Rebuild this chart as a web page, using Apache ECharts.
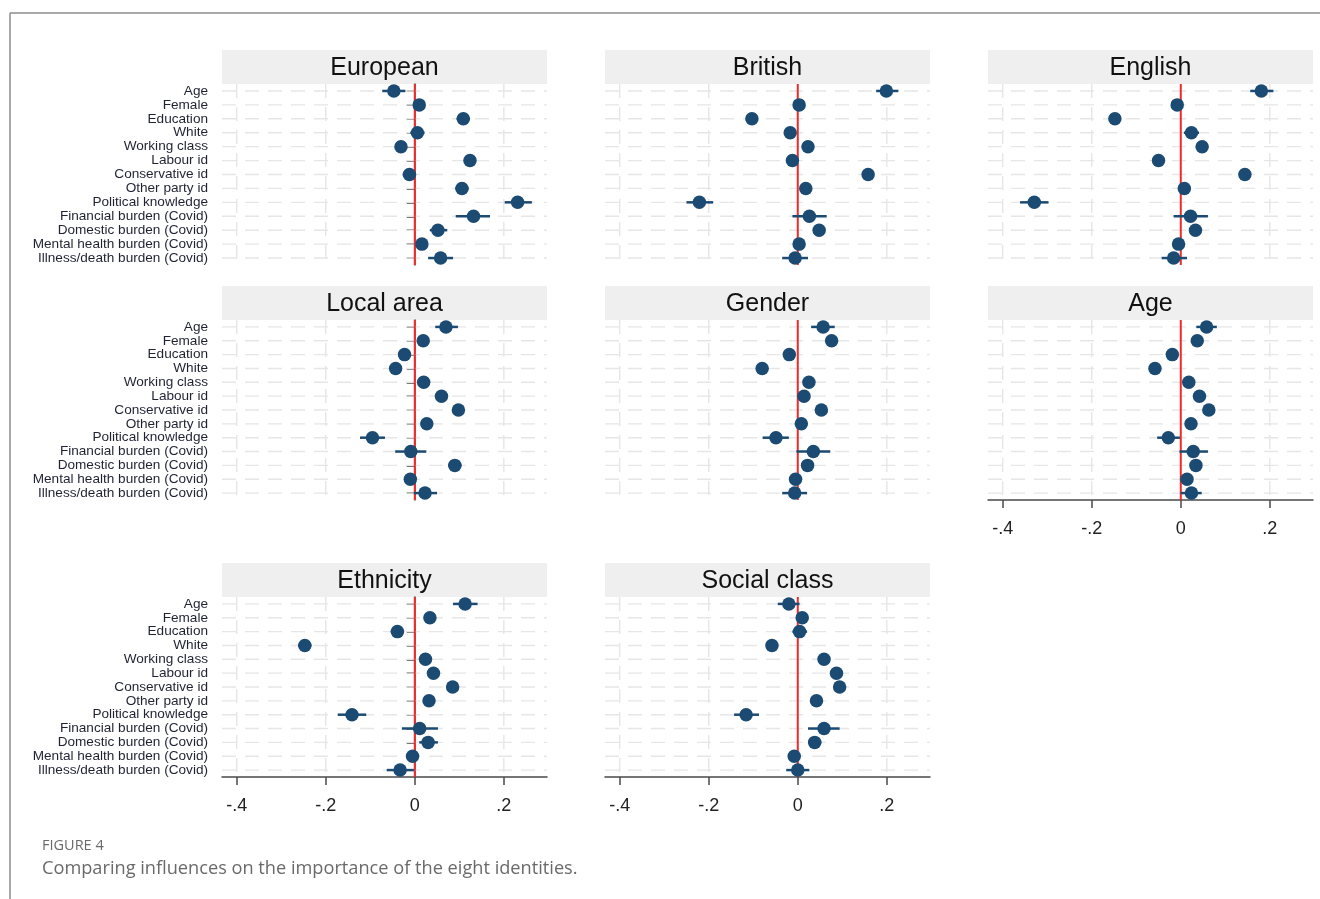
<!DOCTYPE html>
<html>
<head>
<meta charset="utf-8">
<script src="https://cdn.jsdelivr.net/npm/echarts@6/dist/echarts.min.js"></script>
<style>
html,body{margin:0;padding:0;background:#fff;}
#chart{width:1320px;height:899px;}
</style>
</head>
<body>
<div id="chart"></div>
<script>
// ---------------- DATA ----------------
const categories = ['Age','Female','Education','White','Working class','Labour id','Conservative id','Other party id','Political knowledge','Financial burden (Covid)','Domestic burden (Covid)','Mental health burden (Covid)','Illness/death burden (Covid)'];
const panelTitles = ['European','British','English','Local area','Gender','Age','Ethnicity','Social class'];
const xTicks = [-0.4, -0.2, 0, 0.2];

const europeanEst = [-0.047, 0.010, 0.109, 0.006, -0.031, 0.124, -0.012, 0.106, 0.231, 0.132, 0.052, 0.016, 0.058];
const europeanLo  = [-0.073, 0.000, 0.094, -0.010, -0.041, 0.112, -0.027, 0.091, 0.202, 0.092, 0.034, 0.004, 0.030];
const europeanHi  = [-0.021, 0.020, 0.124, 0.022, -0.021, 0.136, 0.003, 0.121, 0.263, 0.169, 0.073, 0.028, 0.086];

const britishEst = [0.199, 0.003, -0.103, -0.017, 0.023, -0.012, 0.158, 0.018, -0.221, 0.026, 0.048, 0.003, -0.006];
const britishLo  = [0.176, -0.007, -0.115, -0.029, 0.011, -0.024, 0.146, 0.006, -0.250, -0.012, 0.035, -0.008, -0.035];
const britishHi  = [0.226, 0.013, -0.091, -0.005, 0.035, 0.000, 0.170, 0.030, -0.190, 0.065, 0.061, 0.014, 0.023];

const englishEst = [0.181, -0.008, -0.148, 0.024, 0.048, -0.050, 0.144, 0.008, -0.329, 0.022, 0.033, -0.005, -0.016];
const englishLo  = [0.156, -0.018, -0.160, 0.007, 0.036, -0.062, 0.132, -0.004, -0.361, -0.016, 0.020, -0.016, -0.043];
const englishHi  = [0.208, 0.002, -0.136, 0.041, 0.060, -0.038, 0.156, 0.020, -0.297, 0.061, 0.046, 0.006, 0.014];

const localEst = [0.070, 0.019, -0.023, -0.043, 0.020, 0.060, 0.098, 0.027, -0.095, -0.009, 0.090, -0.010, 0.023];
const localLo  = [0.046, 0.008, -0.035, -0.055, 0.008, 0.048, 0.086, 0.015, -0.123, -0.044, 0.075, -0.021, -0.002];
const localHi  = [0.097, 0.030, -0.011, -0.031, 0.032, 0.072, 0.110, 0.039, -0.067, 0.026, 0.105, 0.001, 0.050];

const genderEst = [0.057, 0.076, -0.019, -0.080, 0.025, 0.014, 0.053, 0.008, -0.049, 0.035, 0.022, -0.005, -0.007];
const genderLo  = [0.030, 0.064, -0.031, -0.092, 0.013, 0.002, 0.041, -0.004, -0.079, -0.003, 0.009, -0.016, -0.035];
const genderHi  = [0.083, 0.088, -0.007, -0.068, 0.037, 0.026, 0.065, 0.020, -0.020, 0.073, 0.035, 0.006, 0.021];

const ageEst = [0.058, 0.037, -0.019, -0.058, 0.018, 0.042, 0.063, 0.023, -0.028, 0.028, 0.034, 0.014, 0.024];
const ageLo  = [0.035, 0.026, -0.030, -0.070, 0.007, 0.031, 0.052, 0.012, -0.053, -0.003, 0.022, 0.003, 0.000];
const ageHi  = [0.081, 0.048, -0.008, -0.046, 0.029, 0.053, 0.074, 0.034, -0.002, 0.061, 0.046, 0.025, 0.047];

const ethnicityEst = [0.113, 0.034, -0.039, -0.247, 0.024, 0.042, 0.085, 0.032, -0.141, 0.011, 0.030, -0.005, -0.033];
const ethnicityLo  = [0.086, 0.022, -0.054, -0.262, 0.012, 0.030, 0.073, 0.020, -0.173, -0.029, 0.010, -0.017, -0.063];
const ethnicityHi  = [0.141, 0.046, -0.024, -0.232, 0.036, 0.054, 0.097, 0.044, -0.109, 0.052, 0.052, 0.007, -0.002];

const socialEst = [-0.020, 0.010, 0.004, -0.058, 0.059, 0.087, 0.094, 0.042, -0.116, 0.059, 0.038, -0.008, 0.000];
const socialLo  = [-0.045, -0.001, -0.012, -0.070, 0.047, 0.075, 0.082, 0.030, -0.143, 0.023, 0.023, -0.019, -0.026];
const socialHi  = [0.004, 0.021, 0.021, -0.046, 0.071, 0.099, 0.106, 0.054, -0.087, 0.094, 0.053, 0.003, 0.026];

// ---------------- LAYOUT ----------------
const panels = [
  {est: europeanEst,  lo: europeanLo,  hi: europeanHi,  col: 0, row: 0, ylab: true,  xlab: false},
  {est: britishEst,   lo: britishLo,   hi: britishHi,   col: 1, row: 0, ylab: false, xlab: false},
  {est: englishEst,   lo: englishLo,   hi: englishHi,   col: 2, row: 0, ylab: false, xlab: false},
  {est: localEst,     lo: localLo,     hi: localHi,     col: 0, row: 1, ylab: true,  xlab: false},
  {est: genderEst,    lo: genderLo,    hi: genderHi,    col: 1, row: 1, ylab: false, xlab: false},
  {est: ageEst,       lo: ageLo,       hi: ageHi,       col: 2, row: 1, ylab: false, xlab: true},
  {est: ethnicityEst, lo: ethnicityLo, hi: ethnicityHi, col: 0, row: 2, ylab: true,  xlab: true},
  {est: socialEst,    lo: socialLo,    hi: socialHi,    col: 1, row: 2, ylab: false, xlab: true}
];
const colLeft = [222, 605, 988];
const colWidth = 325;
const rowTop = [84, 320, 597];
const rowHeight = [181, 180, 180];
const barH = 34;

const XMIN = -0.433, XMAX = 0.297;
const NAVY = '#1b4a72';
const AXIS = '#4a4a4a';
const GRIDC = '#e6e6e6';

const fmt = v => {
  if (Math.abs(v) < 1e-9) return '0';
  const s = String(Math.abs(+v.toFixed(2))).replace(/^0/, '');
  return (v < 0 ? '-' : '') + s;
};

const grids = [], xAxes = [], yAxes = [], series = [], graphics = [];

panels.forEach((p, k) => {
  const left = colLeft[p.col], top = rowTop[p.row], h = rowHeight[p.row];
  grids.push({left: left, top: top, width: colWidth, height: h, containLabel: false});
  xAxes.push({
    type: 'value', gridIndex: k, min: XMIN, max: XMAX,
    axisLine: {show: p.xlab, onZero: false, lineStyle: {color: AXIS, width: 1.5}},
    axisTick: {show: p.xlab, customValues: xTicks, length: 8, lineStyle: {color: AXIS, width: 1.5}},
    axisLabel: {show: p.xlab, customValues: xTicks, formatter: fmt, fontSize: 18, color: '#222',
                fontFamily: 'Liberation Sans, Arial, sans-serif', margin: 20},
    splitLine: {show: false}
  });
  yAxes.push({
    type: 'category', gridIndex: k, data: categories, inverse: true, boundaryGap: true,
    axisLine: {show: p.ylab, lineStyle: {color: AXIS, width: 1.5}},
    axisTick: {show: p.ylab, alignWithLabel: true, length: 8, lineStyle: {color: AXIS, width: 1.5}},
    axisLabel: {show: p.ylab, fontSize: 13.6, color: '#1f2233', margin: 14,
                fontFamily: 'Liberation Sans, Arial, sans-serif', interval: 0},
    splitLine: {show: false}
  });

  // background grid lines + zero line
  series.push({
    type: 'custom', xAxisIndex: k, yAxisIndex: k, z: 1, silent: true,
    data: categories.map((c, i) => [0, i]),
    encode: {x: 0, y: 1},
    renderItem: function (params, api) {
      const cs = params.coordSys;
      const y = api.coord([0, api.value(1)])[1];
      const children = [{
        type: 'line',
        shape: {x1: cs.x, y1: y, x2: cs.x + cs.width, y2: y},
        style: {stroke: GRIDC, lineWidth: 1.4, lineDash: [14, 9]}
      }];
      if (params.dataIndex === categories.length - 1) {
        xTicks.forEach(t => {
          if (t === 0) return;
          const x = api.coord([t, 0])[0];
          children.push({
            type: 'line',
            shape: {x1: x, y1: cs.y, x2: x, y2: cs.y + cs.height},
            style: {stroke: GRIDC, lineWidth: 1.4, lineDash: [14, 9]}
          });
        });
        const x0 = api.coord([0, 0])[0];
        children.push({
          type: 'line',
          shape: {x1: x0, y1: cs.y, x2: x0, y2: cs.y + cs.height},
          style: {stroke: '#f02a2a', lineWidth: 2}
        });
      }
      return {type: 'group', children: children};
    }
  });

  // confidence intervals
  series.push({
    type: 'custom', xAxisIndex: k, yAxisIndex: k, z: 3, silent: true,
    data: categories.map((c, i) => [p.lo[i], p.hi[i], i]),
    encode: {x: [0, 1], y: 2},
    renderItem: function (params, api) {
      const a = api.coord([api.value(0), api.value(2)]);
      const b = api.coord([api.value(1), api.value(2)]);
      return {type: 'line', shape: {x1: a[0], y1: a[1], x2: b[0], y2: b[1]},
              style: {stroke: NAVY, lineWidth: 2.5}};
    }
  });

  // point estimates
  series.push({
    type: 'scatter', xAxisIndex: k, yAxisIndex: k, z: 4, silent: true,
    symbol: 'circle', symbolSize: 13.5,
    itemStyle: {color: NAVY, opacity: 1},
    data: p.est.map((v, i) => [v, i])
  });

  // title bar
  graphics.push({
    type: 'rect', shape: {x: left, y: top - barH, width: colWidth, height: barH},
    style: {fill: '#efefef'}, silent: true
  });
  graphics.push({
    type: 'text', x: left + colWidth / 2, y: top - barH / 2 + 1,
    style: {text: panelTitles[k], fill: '#111', font: '25px "Liberation Sans", Arial, sans-serif',
            textAlign: 'center', textVerticalAlign: 'middle'}, silent: true
  });
});

// frame and caption
graphics.push({type: 'line', shape: {x1: 10, y1: 13, x2: 1320, y2: 13}, style: {stroke: '#8c8c8c', lineWidth: 1.5}, silent: true});
graphics.push({type: 'line', shape: {x1: 10, y1: 13, x2: 10, y2: 899}, style: {stroke: '#8c8c8c', lineWidth: 1.5}, silent: true});
graphics.push({type: 'text', x: 42, y: 846, style: {text: 'FIGURE 4', fill: '#6a6a6a', font: '14.5px "Open Sans", sans-serif', textVerticalAlign: 'middle'}, silent: true});
graphics.push({type: 'text', x: 42, y: 869, style: {text: 'Comparing influences on the importance of the eight identities.', fill: '#6a6a6a', font: '18.2px "Open Sans", sans-serif', textVerticalAlign: 'middle'}, silent: true});

const chart = echarts.init(document.getElementById('chart'), null, {renderer: 'canvas'});
chart.setOption({
  animation: false,
  backgroundColor: '#fff',
  grid: grids,
  xAxis: xAxes,
  yAxis: yAxes,
  series: series,
  graphic: graphics
});
</script>
</body>
</html>
